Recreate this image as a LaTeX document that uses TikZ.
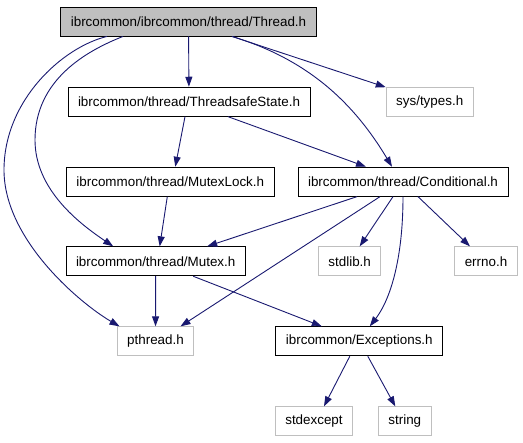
\documentclass[tikz,border=0pt]{standalone}
\usepackage{fontspec}
\setmainfont{Liberation Sans}
\usetikzlibrary{arrows.meta,calc,positioning}
\definecolor{GraphEdge}{RGB}{25,25,112}
\definecolor{GraphGray}{RGB}{191,191,191}

\begin{document}
\begin{tikzpicture}[x=1pt, y=-1pt, >={Triangle[length=10pt,width=7pt]}]
    \tikzstyle{hdr}=[draw=black, line width=0.9pt, minimum height=29pt, inner xsep=10pt, font=\fontsize{13.4}{16}\selectfont]
    \tikzstyle{sys}=[hdr, draw=GraphGray]
    \tikzstyle{cur}=[hdr, fill=GraphGray]
    \tikzstyle{dep}=[->, GraphEdge, line width=0.9pt]

    \useasboundingbox (0,0) rectangle (523,443);

    \node[cur] (thread) at (188.5,21.5) {ibrcommon/ibrcommon/thread/Thread.h};
    \node[hdr] (tss) at (189,101.7) {ibrcommon/thread/ThreadsafeState.h};
    \node[sys] (types) at (429.7,101.7) {sys/types.h};
    \node[hdr] (mlock) at (170.3,181.7) {ibrcommon/thread/MutexLock.h};
    \node[hdr] (cond) at (403,181.7) {ibrcommon/thread/Conditional.h};
    \node[hdr] (mutex) at (155.7,261.3) {ibrcommon/thread/Mutex.h};
    \node[sys] (stdlib) at (349.7,261.3) {stdlib.h};
    \node[sys] (errno) at (486,261.3) {errno.h};
    \node[sys] (pthread) at (155.5,341.3) {pthread.h};
    \node[hdr] (exc) at (359.3,341.3) {ibrcommon/Exceptions.h};
    \node[sys] (stdexcept) at (314,421.3) {stdexcept};
    \node[sys] (string) at (404.8,421.3) {string};

    % includes of Thread.h
    \draw[dep] (thread) -- (tss);
    \draw[dep] ([xshift=43.5pt]thread.south) -- (types);
    \draw[dep] ([xshift=43.5pt]thread.south) .. controls (310,60) and (355,105) .. ([xshift=-11pt]cond.north);
    \draw[dep] ([xshift=-65.5pt]thread.south) .. controls (86,51) and (35,80) .. (35,140) .. controls (35,190) and (80,224) .. ([xshift=-42.5pt]mutex.north);
    \draw[dep] ([xshift=-81.5pt]thread.south) .. controls (63,47) and (4,100) .. (4,170) .. controls (4,240) and (81,304) .. ([xshift=-36pt]pthread.north);

    \draw[dep] ([xshift=-4pt]tss.south) -- ([xshift=5pt]mlock.north);
    \draw[dep] ([xshift=39pt]tss.south) -- ([xshift=-37pt]cond.north);
    \draw[dep] ([xshift=-3pt]mlock.south) -- ([xshift=4pt]mutex.north);

    % includes of Conditional.h
    \draw[dep] ([xshift=-46pt]cond.south) -- ([xshift=51.5pt]mutex.north);
    \draw[dep] ([xshift=-23pt]cond.south) -- ([xshift=25pt]pthread.north);
    \draw[dep] ([xshift=-10pt]cond.south) -- ([xshift=10pt]stdlib.north);
    \draw[dep] (cond.south) .. controls (403,260) and (390,300) .. ([xshift=10.5pt]exc.north);
    \draw[dep] ([xshift=15pt]cond.south) -- ([xshift=-16pt]errno.north);

    \draw[dep] (mutex) -- (pthread);
    \draw[dep] ([xshift=37.5pt]mutex.south) -- ([xshift=-37.5pt]exc.north);
    \draw[dep] ([xshift=-9.5pt]exc.south) -- ([xshift=10pt]stdexcept.north);
    \draw[dep] ([xshift=8.5pt]exc.south) -- ([xshift=-9.5pt]string.north);
\end{tikzpicture}
\end{document}
